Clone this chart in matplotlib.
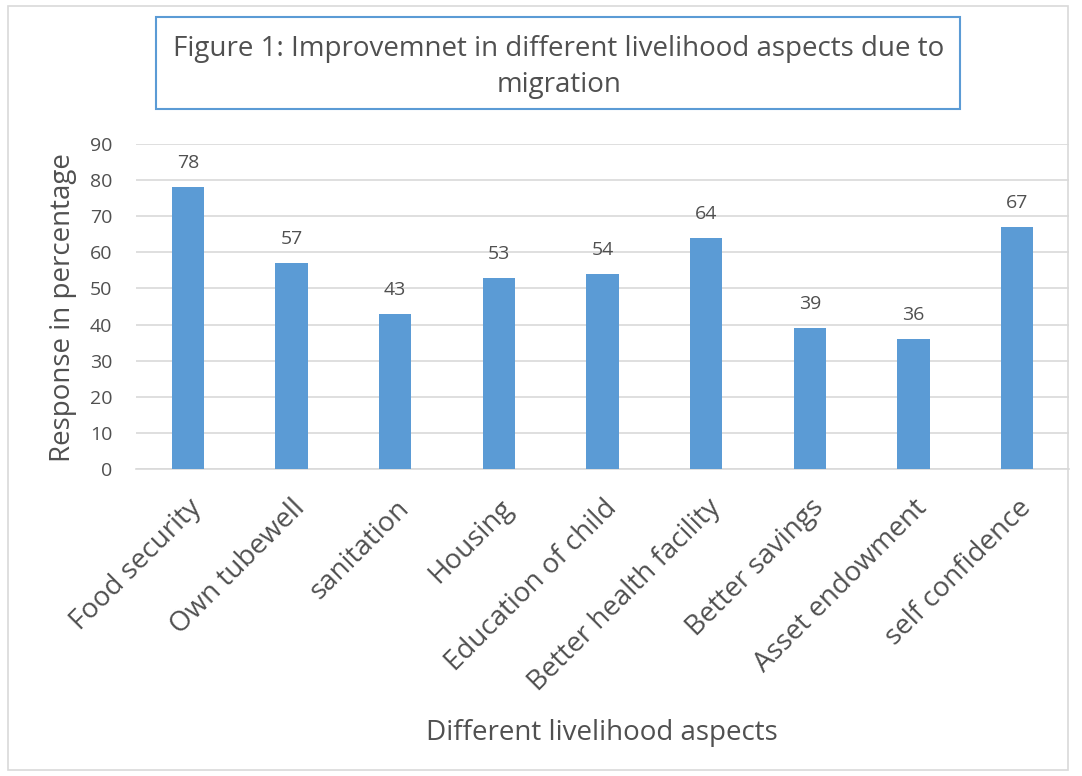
import matplotlib
matplotlib.use("Agg")
import matplotlib.pyplot as plt
from matplotlib.patches import Rectangle

categories = ["Food security", "Own tubewell", "sanitation", "Housing", "Education of child",
              "Better health facility", "Better savings", "Asset endowment", "self confidence"]
values = [78, 57, 43, 53, 54, 64, 39, 36, 67]
yticks = [0, 10, 20, 30, 40, 50, 60, 70, 80, 90]

plt.rcParams['font.family'] = ['Open Sans', 'DejaVu Sans']
txt = '#505050'

W, H = 1082, 776
fig = plt.figure(figsize=(W/100, H/100), dpi=100)
fig.patch.set_facecolor('white')

# outer chart border
fig.add_artist(Rectangle((8/W, 1 - 770/H), (1068-8)/W, (770-6)/H, transform=fig.transFigure,
                         fill=False, edgecolor='#d9d9d9', linewidth=1.2))

left, right, top, bottom = 136, 1069, 144, 469
ax = fig.add_axes([left/W, 1 - bottom/H, (right-left)/W, (bottom-top)/H])
x = range(len(categories))
bars = ax.bar(x, values, width=0.31, color='#5B9BD5', zorder=3)
for xi, v in zip(x, values):
    ax.text(xi, v + 6.6, str(v), ha='center', va='center', fontsize=14, color=txt)

ax.set_xlim(-0.5, len(categories) - 0.5)
ax.set_ylim(0, 90)
ax.set_yticks(yticks)
ax.set_yticklabels([str(t) for t in yticks], fontsize=14, color=txt)
ax.yaxis.grid(True, color='#d9d9d9', linewidth=1.2, zorder=0)
ax.set_xticks(list(x))
ax.set_xticklabels(categories, rotation=45, ha='right', rotation_mode='anchor',
                   fontsize=20, color=txt)
ax.tick_params(axis='y', length=0, pad=17)
ax.tick_params(axis='x', length=0, pad=18)
for s in ['top', 'right', 'left']:
    ax.spines[s].set_visible(False)
ax.spines['bottom'].set_color('#d9d9d9')
ax.spines['bottom'].set_linewidth(1.2)

fig.text(63/W, 1 - 308/H, 'Response in percentage', rotation=90, ha='center', va='center',
         fontsize=20, color=txt)
fig.text(602/W, 1 - 733/H, 'Different livelihood aspects', ha='center', va='center',
         fontsize=20, color=txt)

# title box
fig.add_artist(Rectangle((156/W, 1 - 109/H), (960-156)/W, (109-17)/H, transform=fig.transFigure,
                         fill=False, edgecolor='#5B9BD5', linewidth=1.5))
fig.text(559/W, 1 - 67/H, 'Figure 1: Improvemnet in different livelihood aspects due to\nmigration',
         ha='center', va='center', fontsize=20, color=txt, linespacing=1.42)

fig.savefig('out.png', dpi=100)
